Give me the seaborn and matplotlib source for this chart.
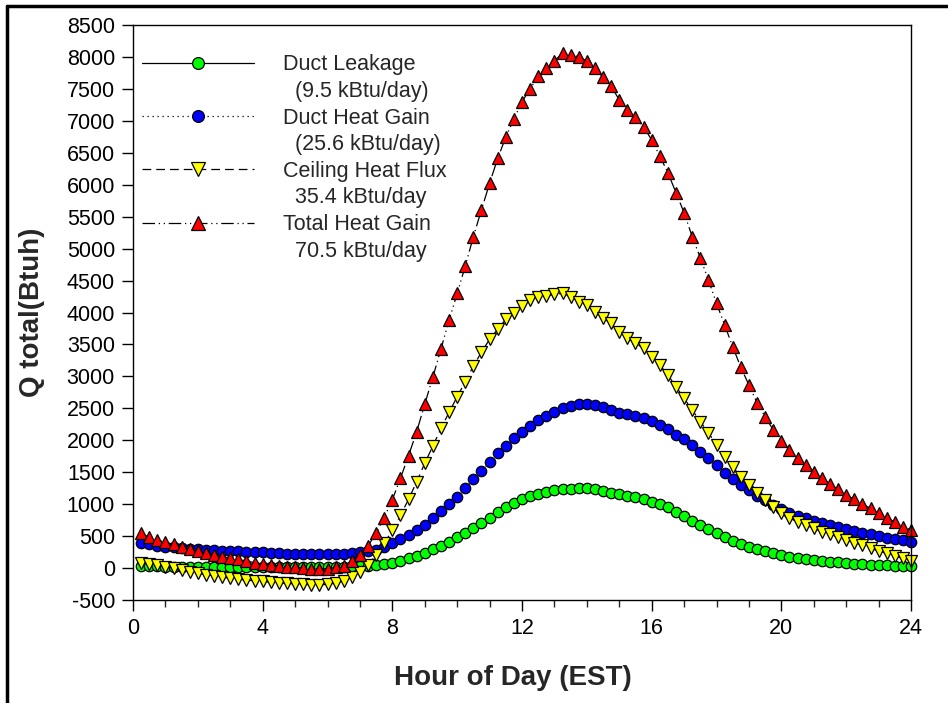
import matplotlib
matplotlib.use("Agg")
import matplotlib.pyplot as plt
from matplotlib.lines import Line2D
import numpy as np
import seaborn as sns

# --- data: 15-minute values, 0.25 h .. 24 h ---
hours = np.arange(0.25, 24.25, 0.25)

duct_leakage = [
    30, 28, 25, 22, 20, 18, 16, 15,
    14, 13, 12, 12, 12, 12, 13, 14,
    15, 17, 18, 20, 21, 22, 23, 24,
    24, 24, 25, 28, 35, 47, 63, 84,
    110, 150, 190, 240, 293, 345, 410, 480,
    553, 630, 710, 790, 870, 950, 1020, 1075,
    1125, 1165, 1195, 1220, 1235, 1245, 1250, 1248,
    1235, 1212, 1182, 1160, 1135, 1108, 1078, 1040,
    1003, 953, 885, 815, 742, 674, 606, 544,
    482, 430, 378, 334, 295, 266, 232, 204,
    180, 162, 143, 127, 115, 101, 90, 76,
    68, 59, 53, 47, 42, 37, 32, 28,
]

duct_heat_gain = [
    397, 372, 352, 336, 322, 310, 300, 292,
    286, 280, 274, 268, 262, 256, 250, 244,
    238, 232, 226, 222, 218, 215, 215, 217,
    221, 228, 238, 250, 262, 290, 334, 387,
    452, 517, 594, 680, 779, 893, 1003, 1117,
    1248, 1389, 1524, 1655, 1796, 1915, 2031, 2134,
    2226, 2310, 2385, 2447, 2505, 2536, 2562, 2566,
    2552, 2518, 2476, 2434, 2410, 2380, 2343, 2306,
    2239, 2171, 2083, 2015, 1926, 1821, 1718, 1613,
    1493, 1389, 1300, 1222, 1133, 1065, 987, 919,
    857, 820, 779, 741, 710, 674, 648, 606,
    580, 553, 528, 502, 478, 456, 438, 413,
]

ceiling_flux = [
    84, 60, 42, 20, 0, -25, -55, -80,
    -105, -120, -140, -160, -175, -188, -200, -210,
    -222, -232, -240, -248, -255, -260, -263, -255,
    -235, -210, -145, -68, 50, 204, 387, 590,
    825, 1076, 1352, 1640, 1910, 2187, 2437, 2682,
    2917, 3163, 3380, 3580, 3737, 3893, 3997, 4102,
    4196, 4245, 4262, 4285, 4300, 4250, 4170, 4117,
    4013, 3909, 3831, 3700, 3596, 3518, 3440, 3308,
    3178, 3022, 2839, 2657, 2474, 2291, 2119, 1926,
    1743, 1587, 1430, 1300, 1170, 1065, 960, 857,
    779, 726, 674, 622, 569, 533, 481, 439,
    397, 361, 309, 267, 231, 189, 152, 115,
]

total_gain = [
    544, 481, 439, 403, 372, 334, 303, 267,
    240, 204, 178, 157, 137, 110, 84, 68,
    45, 32, 21, 12, 0, -8, -12, -8,
    10, 35, 105, 200, 345, 553, 790, 1070,
    1405, 1759, 2134, 2565, 2990, 3430, 3880, 4300,
    4728, 5187, 5610, 6022, 6413, 6745, 7030, 7300,
    7500, 7695, 7822, 7942, 8057, 8030, 8004, 7936,
    7822, 7681, 7545, 7326, 7169, 7055, 6909, 6700,
    6449, 6188, 5875, 5562, 5187, 4858, 4509, 4144,
    3804, 3465, 3142, 2865, 2588, 2369, 2161, 1993,
    1848, 1718, 1613, 1508, 1405, 1316, 1233, 1143,
    1076, 1003, 935, 857, 779, 726, 648, 596,
]

series_names = ["Duct Leakage", "Duct Heat Gain", "Ceiling Heat Flux", "Total Heat Gain"]
series_notes = ["  (9.5 kBtu/day)", "  (25.6 kBtu/day)", "  35.4 kBtu/day", "  70.5 kBtu/day"]

# --- style ---
sns.set_style("ticks")
plt.rcParams["font.family"] = ["Liberation Sans", "DejaVu Sans"]
plt.rcParams["axes.unicode_minus"] = False

fig = plt.figure(figsize=(9.48, 7.03), dpi=100)
ax = fig.add_axes([0.1403, 0.1465, 0.8207, 0.8179])

styles = [
    dict(ls="-", marker="o", mfc="#00ff00", ms=7.5),
    dict(ls=(0, (1, 3)), marker="o", mfc="#0000ff", ms=7.5),
    dict(ls=(0, (7, 4)), marker="v", mfc="#ffff00", ms=8.5),
    dict(ls=(0, (10, 3, 1, 3, 1, 3)), marker="^", mfc="#ff0000", ms=8.5),
]
all_series = [duct_leakage, duct_heat_gain, ceiling_flux, total_gain]

handles = []
for name, vals, st in zip(series_names, all_series, styles):
    sns.lineplot(x=hours, y=vals, ax=ax, color="black", linewidth=0.9,
                 linestyle=st["ls"], marker=st["marker"], markersize=st["ms"],
                 markerfacecolor=st["mfc"], markeredgecolor="black",
                 markeredgewidth=0.9, clip_on=False, legend=False)
    handles.append(Line2D([], [], color="black", linewidth=0.9, linestyle=st["ls"],
                          marker=st["marker"], markersize=st["ms"] + 1,
                          markerfacecolor=st["mfc"], markeredgecolor="black",
                          markeredgewidth=0.9))

# two-line labels: marker sits on the first line, as in the source
blank = Line2D([], [], linestyle="none")
leg_handles, leg_labels = [], []
for h, name, note in zip(handles, series_names, series_notes):
    leg_handles += [h, blank]
    leg_labels += [name, note]

ax.legend(leg_handles, leg_labels, loc="upper left", frameon=False,
          fontsize=15.5, handlelength=5.2, handletextpad=1.35, labelspacing=0.26,
          borderaxespad=0.3, bbox_to_anchor=(-0.008, 0.975))

ax.set_xlim(0, 24)
ax.set_ylim(-500, 8500)
ax.set_xticks(range(0, 25, 4))
ax.set_xticks(range(0, 25, 1), minor=True)
ax.set_yticks(range(-500, 8501, 500))
ax.tick_params(axis="both", which="major", direction="out", length=8, width=1,
               labelsize=15.5, colors="black", pad=5)
ax.tick_params(axis="x", which="minor", direction="out", length=5, width=1)
for sp in ax.spines.values():
    sp.set_visible(True)
    sp.set_linewidth(1)
    sp.set_color("black")

ax.set_xlabel("Hour of Day (EST)", fontsize=20, fontweight="bold")
ax.set_ylabel("Q total(Btuh)", fontsize=20, fontweight="bold")
ax.xaxis.set_label_coords(0.488, -0.113)
ax.yaxis.set_label_coords(-0.113, 0.5)

# outer frame (only top and left visible in the source)
fig.add_artist(Line2D([0.0075, 0.0075], [0, 0.992], transform=fig.transFigure,
                      color="black", linewidth=2.5))
fig.add_artist(Line2D([0.0075, 1.0], [0.992, 0.992], transform=fig.transFigure,
                      color="black", linewidth=2.5))

fig.savefig("out.png", dpi=100)
